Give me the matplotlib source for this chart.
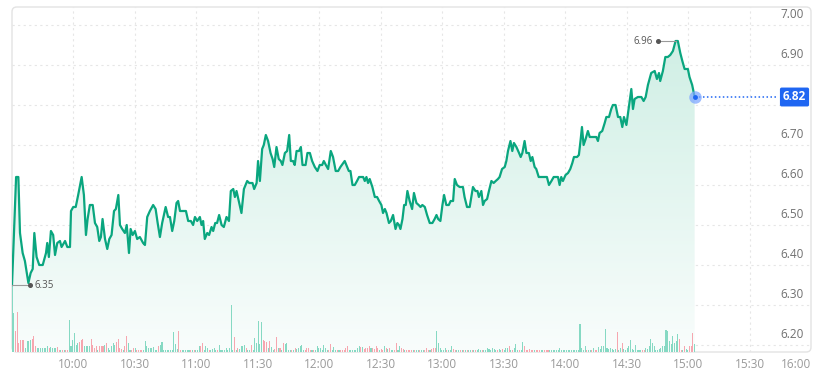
import numpy as np
import matplotlib
matplotlib.use("Agg")
import matplotlib.pyplot as plt
from matplotlib.colors import LinearSegmentedColormap
from matplotlib.patches import PathPatch, FancyBboxPatch

plt.rcParams["font.family"] = ["Open Sans", "DejaVu Sans"]

# minutes after 09:30 and last price
minutes = [
    0, 2.0, 3.1, 3.9, 5.2, 6.3, 8.0, 9.1, 10.1, 10.9,
    12.0, 13.3, 15.0, 16.6, 17.2, 18.0, 19.0, 20.1, 21.0, 22.1,
    23.4, 24.2, 25.9, 27.0, 28.3, 28.8, 29.9, 31.1, 32.3, 34.0,
    35.1, 36.1, 36.9, 38.0, 39.4, 40.5, 41.6, 42.6, 43.4, 44.2,
    45.4, 46.5, 47.5, 48.6, 49.8, 50.7, 51.9, 52.7, 53.8, 55.1,
    56.0, 57.1, 57.9, 58.9, 60.0, 61.1, 62.4, 64.0, 64.9, 66.0,
    67.3, 68.9, 70.1, 71.1, 72.2, 73.3, 75.0, 76.2, 77.1, 78.2,
    79.2, 80.3, 81.1, 82.0, 83.6, 84.9, 86.0, 87.3, 88.4, 89.3,
    90.4, 91.7, 92.5, 93.3, 94.1, 95.3, 96.2, 97.4, 98.2, 99.2,
    100.1, 101.1, 102.3, 103.4, 104.7, 105.9, 106.8, 108.0, 108.8, 109.6,
    110.7, 112.0, 113.2, 114.8, 115.8, 117.4, 118.2, 119.4, 120.1, 121.0,
    122.1, 122.9, 123.9, 125.0, 126.2, 127.2, 128.0, 129.1, 130.2, 131.2,
    132.0, 133.2, 134.3, 135.3, 136.1, 137.2, 138.0, 138.9, 140.1, 141.0,
    141.8, 143.3, 144.2, 145.4, 146.5, 147.8, 149.1, 150.2, 151.4, 152.2,
    153.2, 154.3, 155.6, 156.7, 158.0, 159.2, 160.3, 162.4, 163.6, 164.4,
    165.2, 166.2, 167.3, 168.4, 169.4, 171.4, 172.2, 173.0, 173.8, 174.6,
    175.9, 177.1, 178.2, 179.2, 180.3, 181.1, 182.0, 182.8, 184.0, 184.9,
    186.0, 187.2, 188.1, 188.9, 189.6, 190.6, 191.4, 192.2, 193.0, 194.1,
    195.3, 196.2, 197.4, 198.5, 199.4, 200.3, 201.5, 202.6, 203.9, 205.2,
    206.3, 207.2, 208.0, 209.1, 210.1, 210.9, 212.0, 213.2, 214.1, 215.3,
    216.1, 217.2, 218.5, 220.1, 220.9, 222.1, 223.4, 224.2, 225.0, 226.2,
    227.2, 227.9, 229.1, 229.9, 230.7, 231.9, 232.8, 234.0, 235.1, 236.1,
    237.2, 238.0, 239.2, 240.5, 241.3, 242.1, 243.3, 244.2, 245.0, 246.2,
    247.5, 248.3, 249.1, 250.2, 251.1, 252.3, 253.2, 254.0, 255.1, 255.9,
    257.1, 258.4, 260.0, 261.1, 262.1, 263.3, 264.4, 265.7, 266.5, 267.3,
    268.1, 268.9, 270.2, 271.4, 272.5, 273.5, 274.3, 275.8, 276.7, 277.6,
    278.2, 279.0, 280.0, 281.1, 282.0, 283.6, 285.2, 286.0, 286.8, 288.1,
    289.3, 290.1, 291.4, 292.5, 293.3, 294.6, 295.8, 296.9, 297.9, 298.7,
    299.9, 301.1, 302.3, 303.1, 303.9, 305.5, 307.2, 308.3, 309.3, 310.4,
    312.0, 313.7, 314.8, 315.8, 316.4, 317.7, 318.9, 320.1, 321.3, 322.6,
    323.9, 325.0, 326.2, 327.2, 328.3, 329.9, 330.7, 332.0, 333.2,
]
prices = [
    6.35, 6.62, 6.62, 6.48, 6.43, 6.41, 6.355, 6.38, 6.39, 6.48,
    6.42, 6.40, 6.40, 6.43, 6.455, 6.42, 6.485, 6.475, 6.425, 6.455,
    6.46, 6.445, 6.46, 6.445, 6.445, 6.535, 6.545, 6.545, 6.575, 6.62,
    6.575, 6.475, 6.515, 6.55, 6.55, 6.505, 6.495, 6.46, 6.47, 6.515,
    6.465, 6.44, 6.465, 6.475, 6.535, 6.54, 6.575, 6.50, 6.49, 6.48,
    6.50, 6.43, 6.49, 6.475, 6.485, 6.465, 6.47, 6.455, 6.45, 6.52,
    6.535, 6.55, 6.54, 6.505, 6.47, 6.505, 6.545, 6.52, 6.52, 6.485,
    6.51, 6.555, 6.56, 6.535, 6.535, 6.535, 6.51, 6.51, 6.50, 6.52,
    6.51, 6.52, 6.50, 6.51, 6.465, 6.48, 6.475, 6.495, 6.485, 6.505,
    6.505, 6.525, 6.50, 6.495, 6.52, 6.51, 6.585, 6.59, 6.57, 6.585,
    6.56, 6.53, 6.59, 6.61, 6.605, 6.605, 6.59, 6.605, 6.66, 6.61,
    6.69, 6.70, 6.725, 6.71, 6.68, 6.665, 6.645, 6.695, 6.665, 6.66,
    6.65, 6.68, 6.685, 6.725, 6.66, 6.66, 6.65, 6.685, 6.685, 6.695,
    6.65, 6.65, 6.68, 6.68, 6.66, 6.645, 6.635, 6.65, 6.65, 6.66,
    6.65, 6.64, 6.685, 6.67, 6.635, 6.635, 6.645, 6.66, 6.645, 6.635,
    6.635, 6.60, 6.60, 6.61, 6.62, 6.62, 6.61, 6.62, 6.605, 6.615,
    6.595, 6.57, 6.57, 6.56, 6.55, 6.53, 6.54, 6.53, 6.505, 6.51,
    6.525, 6.49, 6.505, 6.50, 6.49, 6.515, 6.55, 6.55, 6.585, 6.56,
    6.54, 6.58, 6.555, 6.55, 6.545, 6.55, 6.545, 6.525, 6.505, 6.505,
    6.515, 6.525, 6.515, 6.51, 6.55, 6.575, 6.55, 6.55, 6.56, 6.56,
    6.615, 6.60, 6.595, 6.595, 6.57, 6.545, 6.545, 6.57, 6.595, 6.585,
    6.585, 6.57, 6.585, 6.55, 6.56, 6.565, 6.585, 6.61, 6.605, 6.61,
    6.615, 6.62, 6.64, 6.645, 6.66, 6.685, 6.71, 6.685, 6.705, 6.695,
    6.68, 6.67, 6.68, 6.71, 6.68, 6.68, 6.66, 6.67, 6.645, 6.64,
    6.62, 6.62, 6.62, 6.62, 6.60, 6.61, 6.62, 6.62, 6.62, 6.60,
    6.62, 6.61, 6.625, 6.63, 6.64, 6.655, 6.67, 6.67, 6.675, 6.715,
    6.745, 6.70, 6.715, 6.735, 6.72, 6.72, 6.72, 6.71, 6.73, 6.735,
    6.755, 6.77, 6.77, 6.79, 6.80, 6.80, 6.77, 6.77, 6.745, 6.77,
    6.75, 6.795, 6.84, 6.79, 6.815, 6.82, 6.82, 6.81, 6.82, 6.85,
    6.88, 6.885, 6.865, 6.88, 6.86, 6.885, 6.92, 6.92, 6.925, 6.935,
    6.96, 6.96, 6.93, 6.91, 6.89, 6.89, 6.87, 6.85, 6.82,
]

# volume (rough units), g = up bar, r = down bar
volume = [
    69, 39, 21, 40, 9, 12, 12, 12, 4, 11,
    11, 12, 13, 16, 6, 4, 4, 4, 4, 4,
    4, 6, 4, 5, 4, 4, 4, 5, 2, 2,
    2, 2, 2, 2, 32, 6, 12, 19, 7, 9,
    10, 12, 13, 6, 6, 6, 6, 13, 7, 4,
    6, 2, 6, 6, 6, 7, 9, 4, 2, 6,
    9, 7, 10, 13, 4, 3, 2, 6, 16, 9,
    2, 2, 4, 4, 2, 2, 2, 2, 2, 11,
    6, 4, 4, 4, 5, 2, 2, 6, 7, 10,
    2, 2, 2, 2, 2, 2, 20, 8, 3, 21,
    2, 2, 2, 2, 2, 2, 2, 2, 2, 2,
    2, 6, 6, 9, 2, 6, 4, 2, 2, 3,
    4, 2, 2, 7, 2, 2, 2, 4, 2, 4,
    47, 2, 15, 2, 4, 3, 6, 6, 7, 4,
    2, 2, 7, 2, 14, 9, 31, 8, 30, 12,
    11, 10, 4, 11, 5, 2, 3, 15, 4, 4,
    2, 9, 8, 9, 2, 2, 2, 2, 4, 3,
    4, 6, 7, 2, 2, 4, 4, 2, 2, 2,
    2, 6, 4, 4, 2, 7, 4, 2, 2, 8,
    2, 5, 2, 2, 2, 2, 2, 2, 4, 6,
    2, 2, 2, 2, 2, 4, 6, 5, 5, 3,
    4, 4, 6, 4, 4, 3, 6, 4, 2, 3,
    2, 6, 4, 3, 4, 2, 2, 2,
    9, 2, 6, 4, 3, 2, 2, 2, 2, 2,
    2, 2, 2, 2, 2, 2, 2, 2, 4, 2,
    2, 3, 4, 4, 21, 9, 4, 2, 2, 4,
    2, 2, 2, 6, 3, 2, 2, 2, 2, 2,
    2, 2, 2, 2, 2, 2, 2, 2, 2, 3,
    2, 2, 2, 2, 4, 3, 2, 4, 3, 2,
    2, 3, 2, 3, 2, 4, 4, 6, 2, 2,
    4, 8, 2, 2, 2, 10, 6, 2, 2, 3,
    2, 2, 2, 2, 2, 2, 2, 2, 2, 2,
    2, 2, 2, 2, 2, 2, 2, 4, 2, 2,
    2, 2, 2, 2, 2, 2, 2, 2, 2, 28,
    4, 2, 6, 2, 2, 2, 2, 4, 2, 2,
    5, 3, 6, 6, 23, 4, 3, 4, 3, 2,
    3, 20, 2, 4, 9, 3, 2, 4, 6, 12,
    3, 2, 7, 2, 2, 2, 2, 2, 4, 3,
    6, 13, 9, 6, 2, 2, 3, 4, 6, 6,
    22, 21, 11, 8, 16, 9, 11, 18, 13, 2,
    2, 6, 3, 2, 6, 6, 19, 8,
]
volume_dir = (
    "ggrrrrrrgg" "ggrrrggggg" "ggrggggrrg" "rgrrgggggg" "rrrggggrrr"
    "rgrrrgrggg" "ggrrrrgrrg" "grrgrrrrgg" "gggggggrgg" "gggggggggr"
    "rgggggrgrg" "ggrrgggrgg" "ggrggggggg" "ggrgrggggr" "ggrggggggr"
    "rrgrggrrgr" "grggggrgrg" "ggggrrrrgr" "ggggggggrr" "gggrgrrrrr"
    "gggggggrgr" "rrrgrrrrgr" "rgrgrggr"
    "rggrrgrrrr" "grggrggrrr" "grrrgggggg" "rgggrrggrg" "rgrggrgrgg"
    "grgggggggg" "rggrgggrgr" "gggrggrrrr" "rrgrrrggrr" "rggggggggg"
    "gggggggggg" "gggrggrgrr" "gggggggggg" "grggrggggg" "ggggggrrgg"
    "gggggggggg" "ggggggggrr" "grggrrrg"
)

y_ticks = [6.20, 6.30, 6.40, 6.50, 6.60, 6.70, 6.80, 6.90, 7.00]
x_ticks = [30, 60, 90, 120, 150, 180, 210, 240, 270, 300, 330, 360, 390]
x_labels = ["10:00", "10:30", "11:00", "11:30", "12:00", "12:30", "13:00",
            "13:30", "14:00", "14:30", "15:00", "15:30", "16:00"]

LINE = "#0aa67f"
UP = "#86d9c3"
DOWN = "#f6a6af"
BLUE = "#1f66f2"

y_lo, y_hi = 6.1825, 7.045

fig = plt.figure(figsize=(8.26, 3.74), dpi=100)
ax = fig.add_axes([12 / 826, 22 / 374, 799 / 826, 345 / 374])
ax.set_xlim(0, 390)
ax.set_ylim(y_lo, y_hi)

for s in ax.spines.values():
    s.set_visible(False)
frame = FancyBboxPatch((0, 0), 1, 1, boxstyle="round,pad=0,rounding_size=0.006",
                       mutation_aspect=799 / 345, transform=ax.transAxes,
                       facecolor="none", edgecolor="#e3e3e3", lw=1.0,
                       clip_on=False, zorder=0)
ax.add_patch(frame)

# grid
for v in y_ticks:
    ax.axhline(v, color="#e6e6e6", lw=0.8, ls=(0, (2, 3)), zorder=0.5)
for t in x_ticks[:-1]:
    ax.axvline(t, color="#e6e6e6", lw=0.8, ls=(0, (2, 3)), zorder=0.5)

# gradient area under the line
mins = np.array(minutes)
px = np.array(prices)
cmap = LinearSegmentedColormap.from_list("fill", ["#f9fdfc", "#d0efe5"])
grad = np.linspace(0, 1, 256).reshape(-1, 1)
im = ax.imshow(grad, extent=[mins[0], mins[-1], y_lo, px.max()], origin="lower",
               aspect="auto", cmap=cmap, zorder=1)
poly = ax.fill_between(mins, px, y_lo, facecolor="none", edgecolor="none")
clip = PathPatch(poly.get_paths()[0], transform=ax.transData,
                 facecolor="none", edgecolor="none")
ax.add_patch(clip)
im.set_clip_path(clip)
ax.set_xlim(0, 390)
ax.set_ylim(y_lo, y_hi)

# volume bars, bottom of the panel
vol = np.array(volume, dtype=float)
vx = np.linspace(mins[0], mins[-1], len(vol))
step = vx[1] - vx[0]
colors = [UP if c == "g" else DOWN for c in volume_dir]
ax.bar(vx, vol / 345, width=step * 0.62, bottom=0, color=colors,
       transform=ax.get_xaxis_transform(), zorder=2, align="center")

# price line
ax.plot(mins, px, color=LINE, lw=1.6, zorder=4, solid_joinstyle="round")


def to_data(x, y, dx):
    p = ax.transData.transform((x, y))
    return ax.transData.inverted().transform((p[0] + dx, p[1]))


def mark(i):
    x, y = mins[i], px[i]
    side = 1 if x < 195 else -1
    ex, ey = to_data(x, y, 18 * side)
    ax.plot([x, ex], [y, ey], color="#9a9a9a", lw=0.8, zorder=5)
    ax.plot([ex], [ey], "o", color="#555555", ms=2.6, zorder=6)
    ax.annotate(f"{y:.2f}", (ex, ey), xytext=(3.2 * side, 0),
                textcoords="offset points", ha="left" if side > 0 else "right",
                va="center", fontsize=7, color="#555555", zorder=6)


mark(int(np.argmin(px)))
mark(int(np.argmax(px)))

# last price
last_x, last_y = mins[-1], px[-1]
box_x = to_data(0, 0, 766)[0] - to_data(0, 0, 0)[0]
ax.plot([last_x, box_x], [last_y, last_y], color=BLUE, lw=1.1,
        ls=(0, (1, 1.6)), zorder=3)
ax.plot([last_x], [last_y], "o", color="#7fa8ff", alpha=0.75, ms=9, mec="none", zorder=6)
ax.plot([last_x], [last_y], "o", color=BLUE, ms=3.5, mec="none", zorder=7)
ax.annotate(f"{last_y:.2f}", (1, last_y), xycoords=ax.get_yaxis_transform(),
            xytext=(-3.5, 0), textcoords="offset points", ha="right", va="center",
            fontsize=8.5, color="white", fontweight="bold", zorder=8,
            bbox=dict(boxstyle="round,pad=0.25,rounding_size=0.15",
                      facecolor=BLUE, edgecolor="none"))

# y labels inside, above grid lines (the one under the price tag is hidden)
ax.set_yticks([])
for v in y_ticks:
    if abs(v + 0.027 - last_y) < 0.035:
        continue
    ax.annotate(f"{v:.2f}", (1, v), xycoords=ax.get_yaxis_transform(),
                xytext=(-5, 3.2), textcoords="offset points", ha="right",
                va="bottom", fontsize=8.5, color="#707070")

ax.set_xticks(x_ticks)
ax.set_xticklabels(x_labels)
ax.tick_params(axis="x", length=0, pad=4.5, labelsize=8.5, labelcolor="#9a9a9a")
ax.get_xticklabels()[-1].set_ha("right")

fig.savefig("out.png", dpi=100)
